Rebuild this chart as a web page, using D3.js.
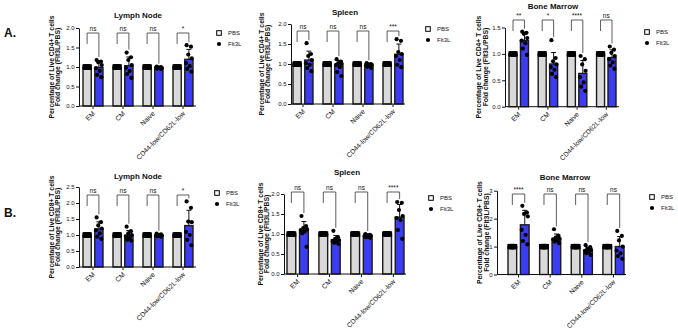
<!DOCTYPE html>
<html>
<head>
<meta charset="utf-8">
<script src="https://cdn.jsdelivr.net/npm/d3@7"></script>
<style>
  html, body { margin: 0; padding: 0; background: #fff; }
  svg { display: block; font-family: "Liberation Sans", Arial, sans-serif; }
</style>
</head>
<body>
<svg id="chart" width="678" height="329"></svg>
<script>
// ---------- DATA ----------
const categories = ["EM", "CM", "Naive", "CD44-low/CD62L-low"];
const groups = ["PBS", "Flt3L"];
const pbsPoints = [1, 1, 1, 1, 1, 1, 1, 1];

// Flt3L fold-change points per category (EM, CM, Naive, CD44-low/CD62L-low)
const lnCD4Flt3L = [
  [1.18, 1.14, 1.12, 1.05, 0.97, 0.90, 0.80, 0.74],
  [1.37, 1.25, 1.18, 1.05, 0.98, 0.90, 0.82, 0.72],
  [1.01, 1.00, 0.99, 0.98, 0.98, 0.97, 0.96, 0.95],
  [1.56, 1.52, 1.32, 1.22, 1.10, 1.02, 0.95, 0.88]
];
const spCD4Flt3L = [
  [1.52, 1.25, 1.20, 1.10, 1.02, 0.98, 0.90, 0.82],
  [1.12, 1.06, 1.02, 1.00, 0.98, 0.92, 0.80, 0.70],
  [1.02, 1.00, 0.99, 0.98, 0.97, 0.95, 0.93, 0.90],
  [1.62, 1.58, 1.30, 1.25, 1.20, 1.10, 0.98, 0.92]
];
const bmCD4Flt3L = [
  [1.42, 1.40, 1.38, 1.30, 1.25, 1.20, 1.10, 0.98],
  [1.26, 0.92, 0.86, 0.80, 0.75, 0.70, 0.62, 0.56],
  [0.96, 0.90, 0.80, 0.68, 0.56, 0.46, 0.38, 0.30],
  [1.14, 1.08, 1.02, 0.96, 0.90, 0.84, 0.78, 0.72]
];
const lnCD8Flt3L = [
  [1.55, 1.40, 1.30, 1.20, 1.15, 1.05, 0.95, 0.88],
  [1.26, 1.12, 1.05, 1.00, 0.95, 0.90, 0.85, 0.82],
  [1.04, 1.02, 1.00, 0.99, 0.98, 0.97, 0.96, 0.95],
  [2.05, 1.85, 1.42, 1.40, 1.10, 1.00, 0.85, 0.68]
];
const spCD8Flt3L = [
  [1.45, 1.20, 1.15, 1.12, 1.10, 1.06, 1.02, 0.68],
  [1.08, 0.92, 0.88, 0.85, 0.82, 0.80, 0.78, 0.75],
  [1.00, 0.98, 0.97, 0.96, 0.95, 0.93, 0.92, 0.90],
  [1.80, 1.78, 1.60, 1.45, 1.40, 1.35, 1.10, 0.88]
];
const bmCD8Flt3L = [
  [2.46, 2.22, 2.17, 2.08, 1.60, 1.42, 1.20, 1.08],
  [1.62, 1.38, 1.32, 1.28, 1.25, 1.22, 1.18, 1.12],
  [1.05, 0.98, 0.92, 0.88, 0.85, 0.80, 0.76, 0.70],
  [1.56, 1.38, 1.22, 1.00, 0.86, 0.76, 0.66, 0.56]
];

const sigLnCD4 = ["ns", "ns", "ns", "*"];
const sigSpCD4 = ["ns", "ns", "ns", "***"];
const sigBmCD4 = ["**", "*", "****", "ns"];
const sigLnCD8 = ["ns", "ns", "ns", "*"];
const sigSpCD8 = ["ns", "ns", "ns", "****"];
const sigBmCD8 = ["****", "ns", "ns", "ns"];

const ticksLnCD4 = [0, 0.5, 1.0, 1.5, 2.0];
const ticksSpCD4 = [0, 0.5, 1.0, 1.5, 2.0];
const ticksBmCD4 = [0, 0.5, 1.0, 1.5];
const ticksLnCD8 = [0, 0.5, 1.0, 1.5, 2.0, 2.5];
const ticksSpCD8 = [0, 0.5, 1.0, 1.5, 2.0];
const ticksBmCD8 = [0, 1, 2, 3];

const titles = ["Lymph Node", "Spleen", "Bone Marrow"];
const yLabelCD4 = ["Percentage of Live CD4+ T cells", "Fold change (Flt3L/PBS)"];
const yLabelCD8 = ["Percentage of Live CD8+ T cells", "Fold change (Flt3L/PBS)"];
const rowLabels = ["A.", "B."];

// ---------- LAYOUT ----------
const panels = [
  {title: titles[0], ylab: yLabelCD4, flt: lnCD4Flt3L, sig: sigLnCD4, ticks: ticksLnCD4, fmt: ".1f",
   L: {ax: 79, axEnd: 196, gx0: 83, gx1: 193, yTop: 28, y0: 106, tx: 138, ty: 15, lx: 219, ly: 33, brk: 33, yl1: 52, yl2: 58}},
  {title: titles[1], ylab: yLabelCD4, flt: spCD4Flt3L, sig: sigSpCD4, ticks: ticksSpCD4, fmt: ".1f",
   L: {ax: 291, axEnd: 405, gx0: 293, gx1: 403, yTop: 24, y0: 104, tx: 345, ty: 12, lx: 428, ly: 29, brk: 31, yl1: 262, yl2: 268}},
  {title: titles[2], ylab: yLabelCD4, flt: bmCD4Flt3L, sig: sigBmCD4, ticks: ticksBmCD4, fmt: ".1f",
   L: {ax: 505, axEnd: 619, gx0: 509, gx1: 616, yTop: 27.5, y0: 106.7, tx: 553, ty: 6, lx: 647, ly: 32, brk: 20, yl1: 479, yl2: 486}},
  {title: titles[0], ylab: yLabelCD8, flt: lnCD8Flt3L, sig: sigLnCD8, ticks: ticksLnCD8, fmt: ".1f",
   L: {ax: 79, axEnd: 196, gx0: 83, gx1: 193, yTop: 187, y0: 267, tx: 138, ty: 176, lx: 217, ly: 193, brk: 195, yl1: 52, yl2: 58}},
  {title: titles[1], ylab: yLabelCD8, flt: spCD8Flt3L, sig: sigSpCD8, ticks: ticksSpCD8, fmt: ".1f",
   L: {ax: 284, axEnd: 406, gx0: 287, gx1: 404, yTop: 194, y0: 274, tx: 347, ty: 172, lx: 431, ly: 198, brk: 192, yl1: 261, yl2: 267}},
  {title: titles[2], ylab: yLabelCD8, flt: bmCD8Flt3L, sig: sigBmCD8, ticks: ticksBmCD8, fmt: "d",
   L: {ax: 497, axEnd: 626, gx0: 508, gx1: 624, yTop: 190.7, y0: 274.5, tx: 565, ty: 177, lx: 652, ly: 197, brk: 194, yl1: 480, yl2: 487}}
];

const BLUE = "#3c3cf0";
const GREY = "#d9d9d9";
const INK = "#111";
const jitter = [-0.55, 0.5, -0.15, 0.7, -0.7, 0.2, -0.4, 0.6];

const svg = d3.select("#chart");
svg.append("rect").attr("width", 678).attr("height", 329).attr("fill", "#fff");

// Row labels
svg.append("text").attr("x", 4).attr("y", 36.5).attr("font-size", 12).attr("font-weight", "bold").attr("fill", INK).text(rowLabels[0]);
svg.append("text").attr("x", 4).attr("y", 216.5).attr("font-size", 12).attr("font-weight", "bold").attr("fill", INK).text(rowLabels[1]);

panels.forEach(p => {
  const L = p.L;
  const g = svg.append("g");
  const maxV = p.ticks[p.ticks.length - 1];
  const y = d3.scaleLinear().domain([0, maxV]).range([L.y0, L.yTop]);
  const x = d3.scaleBand().domain(categories).range([L.gx0, L.gx1]).paddingInner(1 / 3).paddingOuter(0);
  const xs = d3.scaleBand().domain(groups).range([0, x.bandwidth()]).paddingInner(0.3);
  const bw = xs.bandwidth();

  // Title
  g.append("text").attr("x", L.tx).attr("y", L.ty).attr("dy", "0.35em").attr("fill", INK)
    .attr("text-anchor", "middle").attr("font-size", 8).attr("font-weight", "bold").text(p.title);

  // Y label
  const ymid = (L.y0 + L.yTop) / 2;
  [L.yl1, L.yl2].forEach((lx, i) => {
    g.append("text").attr("transform", `translate(${lx},${ymid}) rotate(-90)`)
      .attr("dy", "0.35em").attr("text-anchor", "middle").attr("fill", INK)
      .attr("font-size", 6.8).attr("font-weight", "bold").text(p.ylab[i]);
  });

  // Bars
  categories.forEach((c, i) => {
    const pts = p.flt[i];
    const m = d3.mean(pts);
    const sd = d3.deviation(pts);
    const xPBS = x(c) + xs("PBS");
    const xF = x(c) + xs("Flt3L");
    const pbsMean = d3.mean(pbsPoints);

    g.append("rect").attr("x", xPBS).attr("y", y(pbsMean)).attr("width", bw).attr("height", y(0) - y(pbsMean))
      .attr("fill", GREY).attr("stroke", "#1a1a1a").attr("stroke-width", 1.4);
    g.append("rect").attr("x", xF).attr("y", y(m)).attr("width", bw).attr("height", y(0) - y(m))
      .attr("fill", BLUE).attr("stroke", "#1a1a1a").attr("stroke-width", 1.4);

    // error bar (upper)
    const cx = xF + bw / 2;
    g.append("line").attr("x1", cx).attr("x2", cx).attr("y1", y(m)).attr("y2", y(m + sd))
      .attr("stroke", INK).attr("stroke-width", 1);
    g.append("line").attr("x1", cx - 2.5).attr("x2", cx + 2.5).attr("y1", y(m + sd)).attr("y2", y(m + sd))
      .attr("stroke", INK).attr("stroke-width", 1);

    // PBS points (open squares)
    pbsPoints.forEach((v, k) => {
      const px = xPBS + 2 + (bw - 4) * (k / (pbsPoints.length - 1));
      g.append("rect").attr("x", px - 2).attr("y", y(v) - 2).attr("width", 4).attr("height", 4)
        .attr("fill", "none").attr("stroke", "#000").attr("stroke-width", 1.2);
    });
    // Flt3L points
    pts.forEach((v, k) => {
      g.append("circle").attr("cx", cx + jitter[k] * (bw / 2)).attr("cy", y(v)).attr("r", 2.1).attr("fill", "#000");
    });

    // significance bracket
    const bx1 = xPBS + bw / 2, bx2 = cx;
    const top = L.brk;
    const rightEnd = Math.max(top + 3, y(Math.max(d3.max(pts), m + sd)) - 3);
    g.append("path").attr("d", `M${bx1},${top + 11}V${top}H${bx2}V${rightEnd}`)
      .attr("fill", "none").attr("stroke", "#333").attr("stroke-width", 0.8);
    g.append("text").attr("x", (bx1 + bx2) / 2).attr("y", top - 2).attr("text-anchor", "middle")
      .attr("fill", INK).attr("font-size", 6.5).text(p.sig[i]);
  });

  // Y axis
  const yAxis = d3.axisLeft(y).tickValues(p.ticks).tickSize(3).tickSizeOuter(0).tickFormat(d3.format(p.fmt));
  const ya = g.append("g").attr("transform", `translate(${L.ax},0)`).call(yAxis);
  ya.select(".domain").attr("stroke", INK).attr("stroke-width", 1);
  ya.selectAll(".tick line").attr("stroke", INK);
  ya.selectAll(".tick text").attr("font-size", 6).attr("font-family", "Liberation Sans, Arial, sans-serif").attr("x", -4.5).attr("fill", INK);

  // X axis
  const xAxis = d3.axisBottom(x).tickSize(3).tickSizeOuter(0);
  const xa = g.append("g").attr("transform", `translate(0,${L.y0})`).call(xAxis);
  xa.select(".domain").remove();
  xa.append("line").attr("x1", L.ax).attr("x2", L.axEnd).attr("y1", 0).attr("y2", 0).attr("stroke", INK).attr("stroke-width", 1);
  xa.selectAll(".tick line").attr("stroke", INK);
  xa.selectAll(".tick text").attr("font-size", 6.8).attr("font-family", "Liberation Sans, Arial, sans-serif")
    .attr("text-anchor", "end").attr("transform", "rotate(-45)").attr("x", -4).attr("y", 5).attr("dy", "0.35em").attr("fill", INK);

  // Legend
  g.append("rect").attr("x", L.lx - 2.3).attr("y", L.ly - 2.3).attr("width", 4.6).attr("height", 4.6)
    .attr("fill", "none").attr("stroke", "#000").attr("stroke-width", 1);
  g.append("circle").attr("cx", L.lx).attr("cy", L.ly + 11).attr("r", 2.1).attr("fill", "#000");
  g.append("text").attr("x", L.lx + 9).attr("y", L.ly).attr("dy", "0.35em").attr("font-size", 6).attr("fill", INK).text(groups[0]);
  g.append("text").attr("x", L.lx + 9).attr("y", L.ly + 11).attr("dy", "0.35em").attr("font-size", 6).attr("fill", INK).text(groups[1]);
});
</script>
</body>
</html>
